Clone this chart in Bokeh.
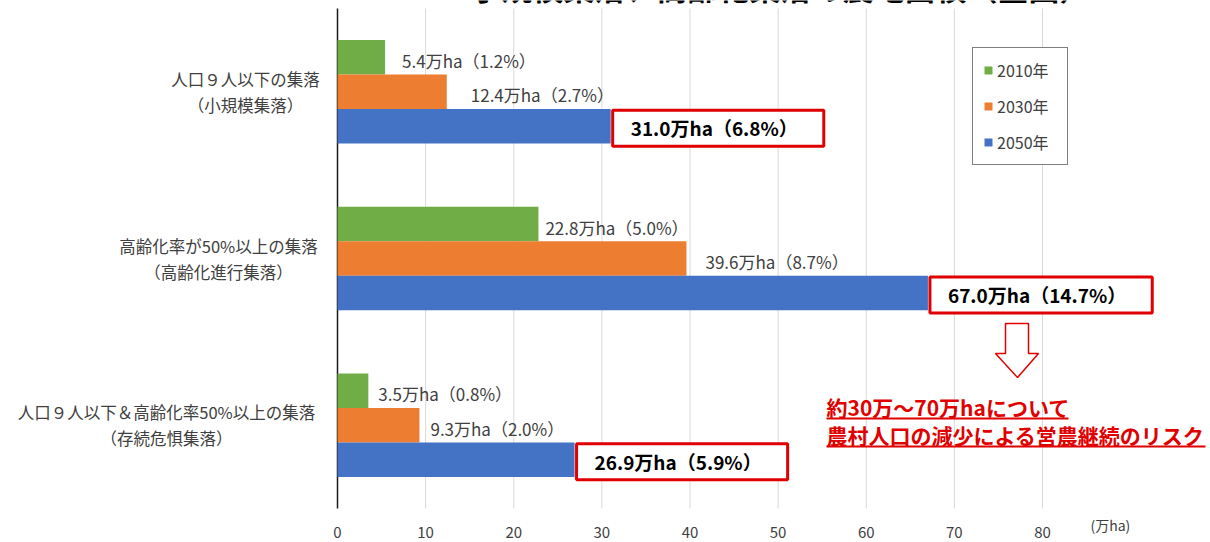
from bokeh.plotting import figure
from bokeh.models import ColumnDataSource, Range1d, Legend, LegendItem
from bokeh.core.properties import value
from bokeh.embed import file_html
from bokeh.resources import INLINE

# ---------------- data ----------------
categories = ["人口９人以下の集落", "高齢化率が50%以上の集落", "人口９人以下＆高齢化率50%以上の集落"]
subtitles = ["（小規模集落）", "（高齢化進行集落）", "（存続危惧集落）"]
years = ["2010年", "2030年", "2050年"]
area_2010 = [5.4, 22.8, 3.5]
area_2030 = [12.4, 39.6, 9.3]
area_2050 = [31.0, 67.0, 26.9]
share_2010 = [1.2, 5.0, 0.8]
share_2030 = [2.7, 8.7, 2.0]
share_2050 = [6.8, 14.7, 5.9]
x_ticks = [0, 10, 20, 30, 40, 50, 60, 70, 80]
unit_label = "(万ha)"
title_text = "小規模集落、高齢化集落の農地面積（全国）"
note_lines = ["約30万～70万haについて", "農村人口の減少による営農継続のリスク"]

# ---------------- layout / style ----------------
W, H = 1210, 542
L, T, B = 337, 8, 508            # plot-area edges in pixels
PX_PER_UNIT = (1042 - 337) / 80  # pixels per 万ha
Y_MAX = 3.0
PX_PER_Y = (B - T) / Y_MAX

def px2x(px):
    return (px - L) / PX_PER_UNIT

def px2y(py):
    return (B - py) / PX_PER_Y

FONT = "Noto Sans CJK JP"
GREEN, ORANGE, BLUE = "#70ad47", "#ed7d31", "#4472c4"
RED = "#e00000"
TXT = "#404040"

yc = [Y_MAX - 0.5 - i for i in range(len(categories))]
bh = 34.5 / PX_PER_Y
y2010 = [v + bh for v in yc]
y2030 = list(yc)
y2050 = [v - bh for v in yc]

off2010 = [17, 7, 10]
off2030 = [24, 19, 11]

def fmt(a, s):
    return f"{a:.1f}万ha（{s:.1f}%）"

p = figure(width=W, height=H, output_backend="svg", toolbar_location=None,
           x_range=Range1d(px2x(0), px2x(W)), y_range=Range1d(px2y(H), px2y(0)),
           x_axis_type=None, y_axis_type=None,
           min_border_left=0, min_border_right=0, min_border_top=0,
           min_border_bottom=0)
p.outline_line_color = None
p.background_fill_color = "white"
p.border_fill_color = "white"
p.grid.visible = False

# grid lines and vertical axis line (drawn through the data scales)
p.segment(x0=x_ticks[1:], x1=x_ticks[1:], y0=[0] * (len(x_ticks) - 1),
          y1=[Y_MAX] * (len(x_ticks) - 1), line_color="#d9d9d9", line_width=1)
p.segment(x0=[0], x1=[0], y0=[0], y1=[Y_MAX], line_color="#1a1a1a", line_width=1.5)

# tick labels
p.text(x=x_ticks, y=[px2y(532)] * len(x_ticks), text=[str(t) for t in x_ticks],
       text_font=value(FONT), text_font_size="15px", text_color=TXT,
       text_align="center", text_baseline="middle")
p.text(x=[px2x(1090)], y=[px2y(524)], text=[unit_label],
       text_font=value(FONT), text_font_size="14px", text_color=TXT,
       text_align="left", text_baseline="middle")

# bars
src = ColumnDataSource(dict(
    y2010=y2010, y2030=y2030, y2050=y2050,
    a2010=area_2010, a2030=area_2030, a2050=area_2050,
    t2010=[fmt(a, s) for a, s in zip(area_2010, share_2010)],
    t2030=[fmt(a, s) for a, s in zip(area_2030, share_2030)],
    t2050=[fmt(a, s) for a, s in zip(area_2050, share_2050)],
    o2010=off2010, o2030=off2030,
))
r1 = p.hbar(y="y2010", left=0, right="a2010", height=bh, source=src,
            fill_color=GREEN, line_color=None)
r2 = p.hbar(y="y2030", left=0, right="a2030", height=bh, source=src,
            fill_color=ORANGE, line_color=None)
r3 = p.hbar(y="y2050", left=0, right="a2050", height=bh, source=src,
            fill_color=BLUE, line_color=None)

# value labels
p.text(x="a2010", y="y2010", text="t2010", source=src, x_offset="o2010", y_offset=3,
       text_font=value(FONT), text_font_size="17px", text_color=TXT,
       text_baseline="middle", text_align="left")
p.text(x="a2030", y="y2030", text="t2030", source=src, x_offset="o2030", y_offset=3,
       text_font=value(FONT), text_font_size="17px", text_color=TXT,
       text_baseline="middle", text_align="left")
p.text(x="a2050", y="y2050", text="t2050", source=src, x_offset=2, y_offset=2,
       text_font=value(FONT), text_font_size="19px", text_font_style="bold",
       text_color="black", text_baseline="middle", text_align="left",
       border_line_color=RED, border_line_width=3,
       background_fill_color="white",
       padding=dict(left=18, right=26, top=4, bottom=5))

# category labels
centers_px = [245, 218, 166]
cat_src = ColumnDataSource(dict(
    x=[px2x(c) for c in centers_px],
    y1=[v + 13 / PX_PER_Y for v in yc],
    y2=[v - 13 / PX_PER_Y for v in yc],
    c=categories, s=subtitles,
))
for ycol, tcol in (("y1", "c"), ("y2", "s")):
    p.text(x="x", y=ycol, text=tcol, source=cat_src,
           text_font=value(FONT), text_font_size="16.5px", text_color=TXT,
           text_align="center", text_baseline="middle")

# title (cut off at top as in reference)
p.text(x=[px2x(470)], y=[px2y(8)], text=[title_text], text_font=value(FONT),
       text_font_size="31px", text_font_style="bold", text_color="black",
       text_align="left", text_baseline="bottom")

# arrow
ax_px = [1005, 1028, 1028, 1038, 1017, 995, 1005, 1005]
ay_px = [323, 323, 353, 353, 377, 353, 353, 323]
p.patch([px2x(v) for v in ax_px], [px2y(v) for v in ay_px],
        fill_color="white", line_color=RED, line_width=1.5)

# note text with underline
note_y = [406, 434]
p.text(x=[px2x(826)] * 2, y=[px2y(v) for v in note_y], text=note_lines,
       text_font=value(FONT), text_font_size="21px", text_font_style="bold",
       text_color=RED, text_align="left", text_baseline="middle")
p.segment(x0=[px2x(826), px2x(826)], y0=[px2y(418), px2y(446)],
          x1=[px2x(1068), px2x(1205)], y1=[px2y(418), px2y(446)],
          line_color=RED, line_width=2)

# legend
legend = Legend(items=[LegendItem(label=years[0], renderers=[r1]),
                       LegendItem(label=years[1], renderers=[r2]),
                       LegendItem(label=years[2], renderers=[r3])],
                location=(972, H - 165), margin=0, padding=10, spacing=12,
                label_height=20, label_width=60, glyph_height=10, glyph_width=10,
                label_standoff=4,
                label_text_font=FONT, label_text_font_size="16px",
                label_text_color=TXT, border_line_color="black",
                border_line_width=1.5, background_fill_color="white",
                background_fill_alpha=1.0)
p.add_layout(legend)

open("out.html", "w").write(file_html(p, INLINE))
